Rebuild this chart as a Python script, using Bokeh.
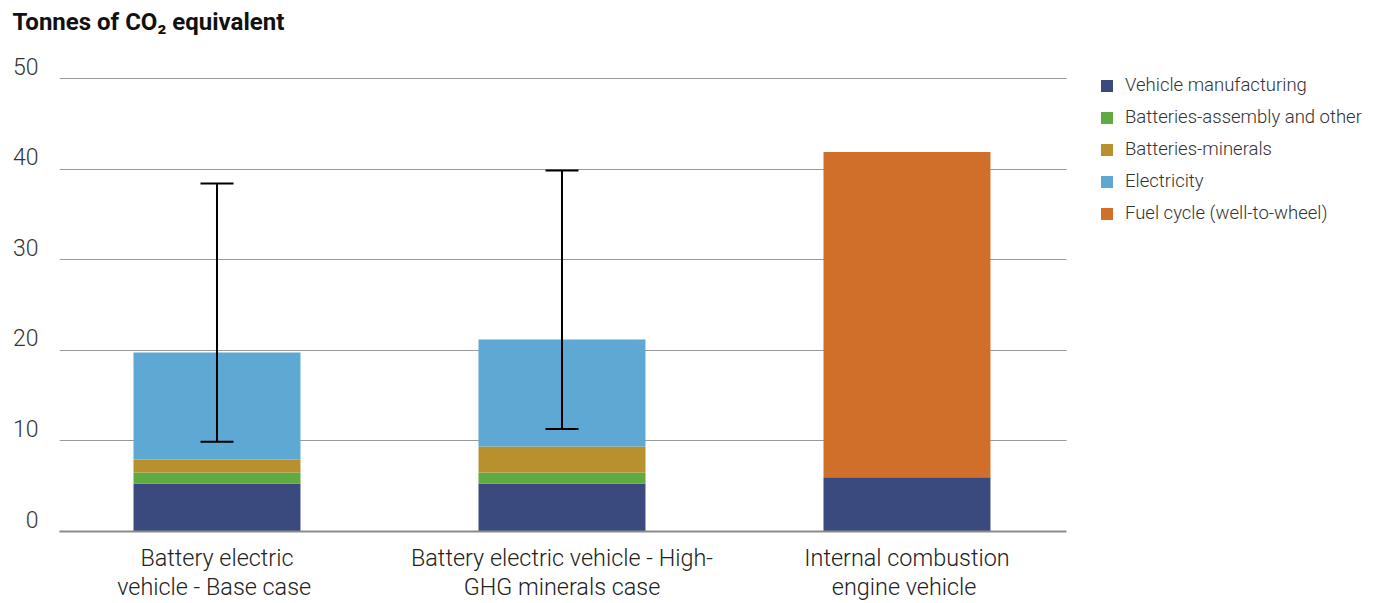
from bokeh.plotting import figure
from bokeh.models import (ColumnDataSource, FixedTicker, Legend, LegendItem,
                          Whisker, TeeHead, Range1d)
from bokeh.embed import file_html
from bokeh.resources import INLINE

# Lifetime emissions per vehicle type (tonnes CO2-eq)
categories = [
    "Battery electric\nvehicle - Base  case",
    "Battery electric vehicle - High-\nGHG minerals case",
    "Internal combustion\nengine  vehicle",
]
vehicle_manufacturing = [5.3, 5.3, 6.0]
batteries_assembly = [1.2, 1.2, 0.0]
batteries_minerals = [1.45, 2.88, 0.0]
electricity = [11.8, 11.82, 0.0]
fuel_cycle = [0.0, 0.0, 35.9]

# Range of electricity-related uncertainty for the battery cases
range_low = [9.9, 11.3]
range_high = [38.4, 39.85]

series_names = ["Vehicle manufacturing", "Batteries-assembly and other",
                "Batteries-minerals", "Electricity", "Fuel cycle (well-to-wheel)"]
series_keys = ["vm", "ba", "bm", "el", "fc"]
colors = ["#3a4a7e", "#60aa42", "#b9902e", "#5ea8d4", "#d06f2a"]
y_ticks = [0, 10, 20, 30, 40, 50]

pos = list(range(len(categories)))
source = ColumnDataSource(dict(
    x=pos, vm=vehicle_manufacturing, ba=batteries_assembly,
    bm=batteries_minerals, el=electricity, fc=fuel_cycle,
))

FONT = "Roboto"
LIGHT = "Roboto Light, Roboto"

# Plot geometry: bars sit 345 px apart; the frame runs on to the right so the
# legend can sit beside the bars, while grid and axis stop at the last slot.
PX_PER_SLOT = 345.0
PX_PER_TONNE = 9.06
FRAME_W, FRAME_H = 1321, 462
x_start = -0.4565
x_data_end = 2.4623
x_end = x_start + FRAME_W / PX_PER_SLOT
y_end = FRAME_H / PX_PER_TONNE

p = figure(frame_width=FRAME_W, frame_height=FRAME_H, output_backend="svg",
           toolbar_location=None,
           x_range=Range1d(x_start, x_end), y_range=Range1d(0, y_end),
           min_border_left=59, min_border_right=0, min_border_top=69,
           min_border_bottom=72)
p.outline_line_color = None
p.background_fill_color = "white"

renderers = p.vbar_stack(series_keys, x="x", width=0.484, source=source,
                         color=colors, line_color=None)

wsrc = ColumnDataSource(dict(base=pos[:2], lower=range_low, upper=range_high))
whisker = Whisker(base="base", lower="lower", upper="upper", source=wsrc,
                  line_color="black", line_width=2, level="overlay",
                  upper_head=TeeHead(size=33, line_width=2, line_color="black"),
                  lower_head=TeeHead(size=33, line_width=2, line_color="black"))
p.add_layout(whisker)

# Title; the blank second line keeps it up near the top edge
p.title.text = "Tonnes of CO\u2082 equivalent\n "
p.title.text_font = FONT
p.title.text_font_style = "bold"
p.title.text_font_size = "24px"
p.title.text_color = "#111111"
p.title.align = "left"
p.title.offset = -47
p.title.standoff = 11

# Axes; the trailing blank line lifts each value label above its grid line
p.yaxis.ticker = FixedTicker(ticks=y_ticks)
p.yaxis.major_label_overrides = {t: f"{t}\n " for t in y_ticks}
p.yaxis.axis_line_color = None
p.yaxis.major_tick_line_color = None
p.yaxis.major_tick_out = 0
p.yaxis.major_tick_in = 0
p.yaxis.minor_tick_line_color = None
p.yaxis.major_label_text_font = LIGHT
p.yaxis.major_label_text_font_size = "23px"
p.yaxis.major_label_text_color = "#333333"
p.yaxis.major_label_text_line_height = 0.85
p.yaxis.major_label_standoff = 21

p.xaxis.ticker = FixedTicker(ticks=pos)
p.xaxis.bounds = (x_start, x_data_end)
p.xaxis.major_label_overrides = {i: c for i, c in zip(pos, categories)}
p.xaxis.axis_line_color = "#8a8a8a"
p.xaxis.axis_line_width = 2
p.xaxis.major_tick_line_color = None
p.xaxis.major_tick_out = 0
p.xaxis.major_tick_in = 0
p.xaxis.minor_tick_line_color = None
p.xaxis.major_label_text_font = LIGHT
p.xaxis.major_label_text_font_size = "23.4px"
p.xaxis.major_label_text_color = "#222222"
p.xaxis.major_label_standoff = 12
p.xaxis.major_label_text_line_height = 1.05

p.xgrid.grid_line_color = None
p.ygrid.ticker = FixedTicker(ticks=y_ticks)
p.ygrid.cross_bounds = (x_start, x_data_end)
p.ygrid.grid_line_color = "#9a9a9a"
p.ygrid.grid_line_width = 1

legend = Legend(
    items=[LegendItem(label=n, renderers=[r]) for n, r in zip(series_names, renderers)],
    location=(1040, 307), orientation="vertical",
    glyph_width=15, glyph_height=15, label_height=20, spacing=10,
    label_standoff=11, padding=0, margin=0,
    label_text_font=LIGHT, label_text_font_size="18.5px", label_text_color="#333333",
    border_line_color=None, background_fill_alpha=0,
)
p.add_layout(legend, "center")

open("out.html", "w").write(file_html(p, INLINE))
